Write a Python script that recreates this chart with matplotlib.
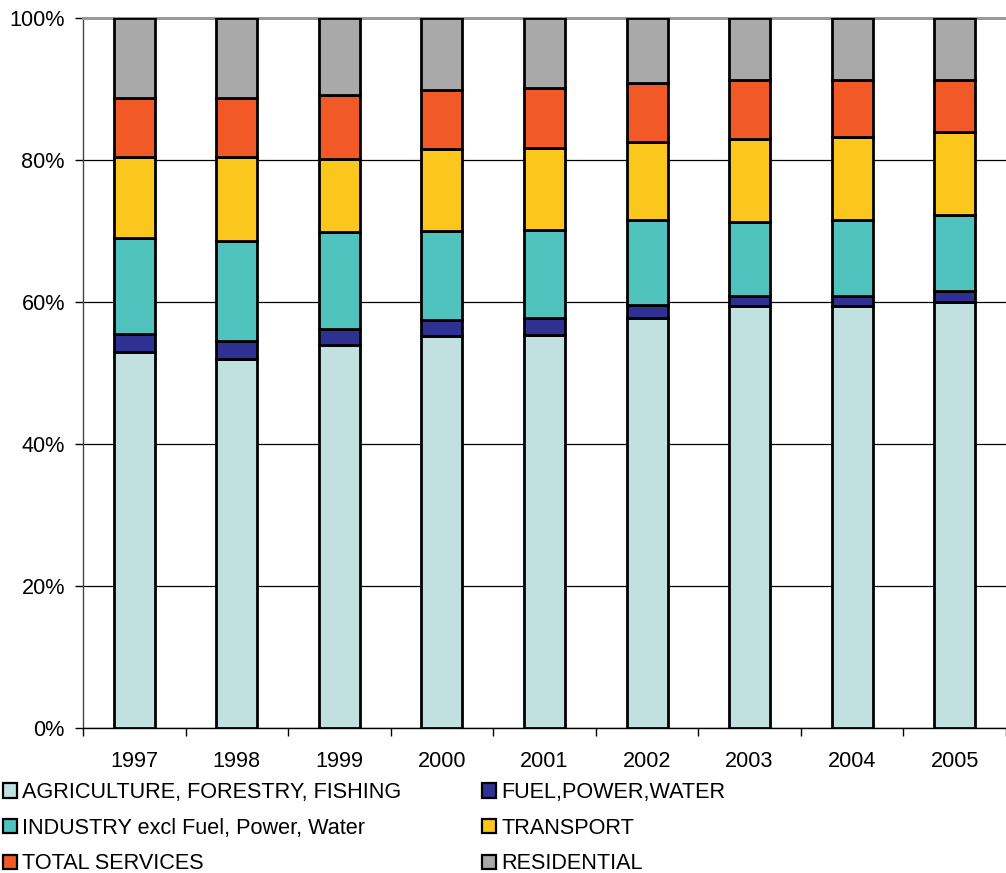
import matplotlib
matplotlib.use("Agg")
import matplotlib.pyplot as plt
import numpy as np
from matplotlib.patches import Patch
from matplotlib.ticker import FixedLocator, PercentFormatter

plt.rcParams["font.family"] = ["Liberation Sans", "DejaVu Sans"]

years = ["1997", "1998", "1999", "2000", "2001", "2002", "2003", "2004", "2005"]

# share of total, percent (each year sums to ~100)
agriculture = [52.9, 52.0, 53.9, 55.2, 55.4, 57.8, 59.5, 59.4, 60.0]
fuel_power_water = [2.6, 2.5, 2.3, 2.2, 2.3, 1.8, 1.4, 1.4, 1.6]
industry = [13.5, 14.1, 13.7, 12.6, 12.5, 11.9, 10.4, 10.7, 10.6]
transport = [11.4, 11.8, 10.2, 11.5, 11.5, 11.1, 11.7, 11.7, 11.8]
services = [8.3, 8.4, 9.0, 8.4, 8.4, 8.2, 8.3, 8.0, 7.2]
residential = [11.3, 11.2, 10.9, 10.1, 9.9, 9.2, 8.7, 8.8, 8.8]

series = [
    ("AGRICULTURE, FORESTRY, FISHING", agriculture, "#C0E1E0"),
    ("FUEL,POWER,WATER", fuel_power_water, "#2E3192"),
    ("INDUSTRY excl Fuel, Power, Water", industry, "#50C3BE"),
    ("TRANSPORT", transport, "#FBC71C"),
    ("TOTAL SERVICES", services, "#F15A27"),
    ("RESIDENTIAL", residential, "#A8A9A8"),
]

FS = 15.6

fig = plt.figure(figsize=(10.06, 8.73), dpi=100)
ax = fig.add_axes([83 / 1006, 145 / 873, 923 / 1006, 710 / 873])

x = np.arange(len(years))
bottom = np.zeros(len(years))
handles = {}
for name, vals, color in series:
    vals = np.array(vals)
    ax.bar(x, vals, width=0.40, bottom=bottom, color=color,
           edgecolor="black", linewidth=2.0, zorder=3)
    bottom += vals
    handles[name] = Patch(facecolor=color, edgecolor="black", linewidth=1.6, label=name)

ax.set_ylim(0, 100)
ax.set_xlim(-0.5, 8.41)
ax.yaxis.set_major_locator(FixedLocator([0, 20, 40, 60, 80, 100]))
ax.yaxis.set_major_formatter(PercentFormatter(decimals=0))
ax.grid(axis="y", color="black", linewidth=0.9, zorder=0)
ax.set_axisbelow(True)

ax.set_xticks(x)
ax.set_xticklabels(years)
ax.set_xticks(np.arange(-0.5, 9.0, 1.0), minor=True)
ax.tick_params(axis="x", which="major", length=0, pad=16.5, labelsize=FS)
ax.tick_params(axis="x", which="minor", length=6, width=1, direction="out")
ax.tick_params(axis="y", length=6, width=1, direction="out", pad=7, labelsize=FS)

ax.spines["right"].set_visible(False)
ax.spines["top"].set_color("#999999")
ax.spines["top"].set_linewidth(2.2)
ax.spines["left"].set_color("#444444")
ax.spines["left"].set_linewidth(1)
ax.spines["bottom"].set_linewidth(1)

order = [
    "AGRICULTURE, FORESTRY, FISHING",
    "INDUSTRY excl Fuel, Power, Water",
    "TOTAL SERVICES",
    "FUEL,POWER,WATER",
    "TRANSPORT",
    "RESIDENTIAL",
]
fig.legend(handles=[handles[n] for n in order], ncol=2, frameon=False,
           loc="upper left", bbox_to_anchor=(3 / 1006, 91 / 873),
           fontsize=FS, handlelength=0.65, handleheight=0.65, handletextpad=0.23,
           columnspacing=3.73, labelspacing=0.68, borderaxespad=0, borderpad=0)

fig.savefig("out.png", dpi=100)
